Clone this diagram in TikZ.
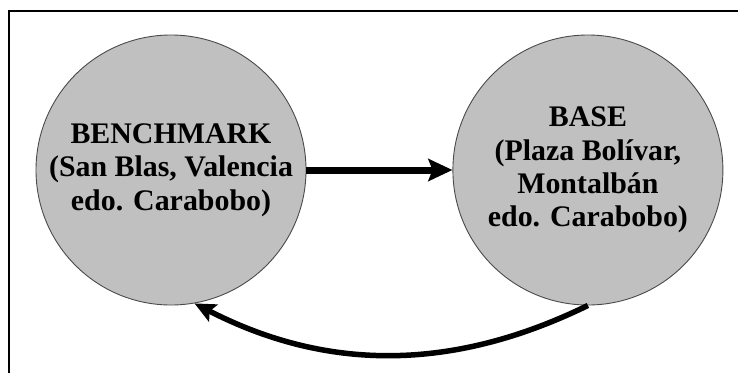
\documentclass[tikz,border=0pt]{standalone}
\usepackage{fontspec}
\setmainfont{Liberation Serif}
\usetikzlibrary{arrows.meta,positioning}
\definecolor{fgris}{HTML}{C0C0C0}
\definecolor{fborde}{HTML}{4A4A4A}
\tikzset{
  sitio/.style   = {draw=fborde, line width=0.9bp, fill=fgris, circle,
                    minimum size=270bp, inner sep=0pt, align=center,
                    font=\bfseries\fontsize{30}{33.5}\selectfont},
  flecha/.style  = {-{Stealth[length=24bp,width=22bp,inset=4bp]}, line width=7bp},
  retorno/.style = {-{Stealth[length=21bp,width=19bp,inset=4bp]}, line width=5.5bp},
}
\begin{document}
\begin{tikzpicture}[x=1bp,y=-1bp]
\useasboundingbox (0,0) rectangle (738,373);
% marco
\draw[line width=1.6bp] (9,373) -- (9,11) -- (738,11);
\node[sitio] (bench) at (171,170) {BENCHMARK\\(San Blas, Valencia\\edo. Carabobo)};
\node[sitio, right=146bp of bench] (base) {BASE\\(Plaza Bolívar,\\Montalbán\\edo. Carabobo)};
\draw[flecha] (bench.east) -- (base.west);
% regreso por debajo
\draw[retorno] (base.-90) .. controls +(-127,62) and +(140,72) .. (bench.-80);
\end{tikzpicture}
\end{document}
